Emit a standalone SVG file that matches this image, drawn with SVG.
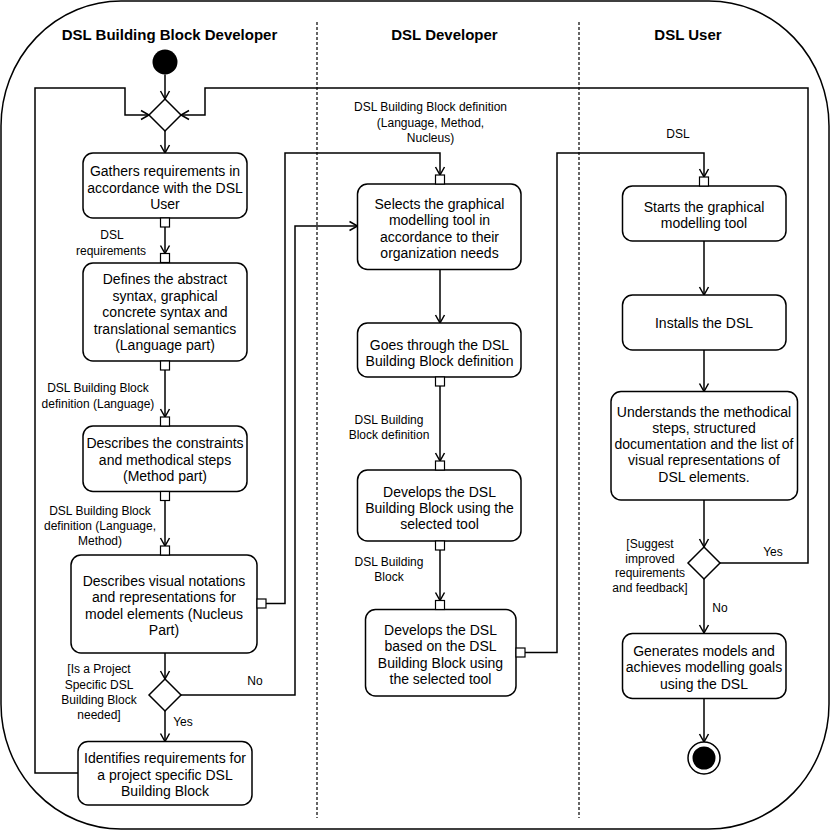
<svg xmlns="http://www.w3.org/2000/svg" width="830" height="831" viewBox="0 0 830 831">
<style>
.box{fill:#fff;stroke:#000;stroke-width:1.5}
.pin{fill:#fff;stroke:#000;stroke-width:1.2}
.dec{fill:#fff;stroke:#000;stroke-width:1.5}
.ln{fill:none;stroke:#000;stroke-width:1.5}
.t{font-family:"Liberation Sans",Arial,sans-serif;font-size:14px;fill:#000;text-anchor:middle}
.l{font-family:"Liberation Sans",Arial,sans-serif;font-size:12px;fill:#000;text-anchor:middle}
.h{font-family:"Liberation Sans",Arial,sans-serif;font-size:15px;font-weight:bold;fill:#000;text-anchor:middle}
.lane{stroke:#000;stroke-width:1.2;stroke-dasharray:3 2}
</style>
<defs>
<marker id="arr" markerUnits="userSpaceOnUse" markerWidth="12" markerHeight="12" viewBox="-10 -6 12 12" refX="0" refY="0" orient="auto">
<path d="M-8,-4.5 L0,0 L-8,4.5" fill="none" stroke="#000" stroke-width="1.5"/>
</marker>
</defs>
<rect x="1" y="1" width="828" height="828" rx="120" ry="125" fill="#fff" stroke="#000" stroke-width="1.5"/>
<g id="lanes">
<line class="lane" x1="317" y1="22" x2="317" y2="818"/>
<line class="lane" x1="579" y1="22" x2="579" y2="818"/>
<text class="h" x="169.5" y="40">DSL Building Block Developer</text>
<text class="h" x="444.5" y="40">DSL Developer</text>
<text class="h" x="688" y="40">DSL User</text>
</g>
<g id="connectors">
<path class="ln" d="M165,74.5 V99" marker-end="url(#arr)"/>
<path class="ln" d="M165,131 V153" marker-end="url(#arr)"/>
<path class="ln" d="M165,227 V253.5" marker-end="url(#arr)"/>
<path class="ln" d="M165,370 V417" marker-end="url(#arr)"/>
<path class="ln" d="M165,500.5 V546" marker-end="url(#arr)"/>
<path class="ln" d="M165,653 V679" marker-end="url(#arr)"/>
<path class="ln" d="M165,711 V741.5" marker-end="url(#arr)"/>
<path class="ln" d="M78,773 H35 V88 H125 V115 H149" marker-end="url(#arr)"/>
<path class="ln" d="M181,695 H295 V226 H357.5" marker-end="url(#arr)"/>
<path class="ln" d="M266,603.5 H285 V153 H440 V175" marker-end="url(#arr)"/>
<path class="ln" d="M440,269.5 V323" marker-end="url(#arr)"/>
<path class="ln" d="M440,386 V461" marker-end="url(#arr)"/>
<path class="ln" d="M440,550 V600.5" marker-end="url(#arr)"/>
<path class="ln" d="M525,652.5 H557 V153 H704 V177" marker-end="url(#arr)"/>
<path class="ln" d="M704,241 V295" marker-end="url(#arr)"/>
<path class="ln" d="M704,350 V391.5" marker-end="url(#arr)"/>
<path class="ln" d="M704,500 V547" marker-end="url(#arr)"/>
<path class="ln" d="M704,579 V633" marker-end="url(#arr)"/>
<path class="ln" d="M704,698.5 V742" marker-end="url(#arr)"/>
<path class="ln" d="M720,563 H808 V88 H205 V115 H181" marker-end="url(#arr)"/>
<text class="l" x="112" y="239">DSL</text>
<text class="l" x="111" y="255">requirements</text>
<text class="l" x="98" y="391.5">DSL Building Block</text>
<text class="l" x="98" y="408">definition (Language)</text>
<text class="l" x="100" y="515">DSL Building Block</text>
<text class="l" x="100" y="530">definition (Language,</text>
<text class="l" x="100" y="545">Method)</text>
<text class="l" x="99" y="673">[Is a Project</text>
<text class="l" x="99" y="688.5">Specific DSL</text>
<text class="l" x="99" y="703.5">Building Block</text>
<text class="l" x="99" y="718.5">needed]</text>
<text class="l" x="255" y="684.5">No</text>
<text class="l" x="183" y="726">Yes</text>
<text class="l" x="430.5" y="111">DSL Building Block definition</text>
<text class="l" x="430.5" y="126.5">(Language, Method,</text>
<text class="l" x="430.5" y="141.5">Nucleus)</text>
<text class="l" x="389" y="424">DSL Building</text>
<text class="l" x="389" y="439">Block definition</text>
<text class="l" x="389" y="566">DSL Building</text>
<text class="l" x="389" y="581">Block</text>
<text class="l" x="678" y="137.5">DSL</text>
<text class="l" x="650" y="548">[Suggest</text>
<text class="l" x="650" y="562.5">improved</text>
<text class="l" x="650" y="577">requirements</text>
<text class="l" x="650" y="591.5">and feedback]</text>
<text class="l" x="773" y="556">Yes</text>
<text class="l" x="720" y="612">No</text>
</g>
<g id="start"><circle cx="165" cy="62" r="12.5" fill="#000"/></g>
<g id="merge"><path class="dec" d="M165,99 L181,115 L165,131 L149,115 Z"/></g>
<g id="gathers">
<rect class="box" x="83" y="153" width="164" height="65" rx="10"/>
<text class="t" x="165" y="176">Gathers requirements in</text>
<text class="t" x="165" y="192.5">accordance with the DSL</text>
<text class="t" x="165" y="209">User</text>
<rect class="pin" x="160.5" y="218" width="9" height="9"/>
</g>
<g id="defines">
<rect class="box" x="83" y="263" width="164" height="98" rx="10"/>
<text class="t" x="165" y="284">Defines the abstract</text>
<text class="t" x="165" y="300.5">syntax, graphical</text>
<text class="t" x="165" y="317">concrete syntax and</text>
<text class="t" x="165" y="333.5">translational semantics</text>
<text class="t" x="165" y="350">(Language part)</text>
<rect class="pin" x="160.5" y="253.5" width="9" height="9"/>
<rect class="pin" x="160.5" y="361" width="9" height="9"/>
</g>
<g id="constraints">
<rect class="box" x="83" y="426" width="164" height="65.5" rx="10"/>
<text class="t" x="165" y="448">Describes the constraints</text>
<text class="t" x="165" y="464.5">and methodical steps</text>
<text class="t" x="165" y="481">(Method part)</text>
<rect class="pin" x="160.5" y="417" width="9" height="9"/>
<rect class="pin" x="160.5" y="491.5" width="9" height="9"/>
</g>
<g id="visual">
<rect class="box" x="71" y="555" width="186" height="98" rx="10"/>
<text class="t" x="164" y="586">Describes visual notations</text>
<text class="t" x="164" y="602">and representations for</text>
<text class="t" x="164" y="618.5">model elements (Nucleus</text>
<text class="t" x="164" y="635">Part)</text>
<rect class="pin" x="160.5" y="546" width="9" height="9"/>
<rect class="pin" x="257" y="599" width="9" height="9"/>
</g>
<g id="decision1"><path class="dec" d="M165,679 L181,695 L165,711 L149,695 Z"/></g>
<g id="identifies">
<rect class="box" x="78" y="741.5" width="174" height="63.5" rx="10"/>
<text class="t" x="165" y="763">Identifies requirements for</text>
<text class="t" x="165" y="779.5">a project specific DSL</text>
<text class="t" x="165" y="796">Building Block</text>
</g>
<g id="selects">
<rect class="box" x="357.5" y="184" width="163.5" height="85.5" rx="10"/>
<text class="t" x="439.5" y="209">Selects the graphical</text>
<text class="t" x="439.5" y="225">modelling tool in</text>
<text class="t" x="439.5" y="241.5">accordance to their</text>
<text class="t" x="439.5" y="257.5">organization needs</text>
<rect class="pin" x="435.5" y="175" width="9" height="9"/>
</g>
<g id="goes">
<rect class="box" x="357.5" y="323" width="163.5" height="54" rx="10"/>
<text class="t" x="439.5" y="350">Goes through the DSL</text>
<text class="t" x="439.5" y="366">Building Block definition</text>
<rect class="pin" x="435.5" y="377" width="9" height="9"/>
</g>
<g id="developsbb">
<rect class="box" x="357.5" y="470" width="163.5" height="71" rx="10"/>
<text class="t" x="439.5" y="496.5">Develops the DSL</text>
<text class="t" x="439.5" y="512.5">Building Block using the</text>
<text class="t" x="439.5" y="529">selected tool</text>
<rect class="pin" x="435.5" y="461" width="9" height="9"/>
<rect class="pin" x="435.5" y="541" width="9" height="9"/>
</g>
<g id="developsdsl">
<rect class="box" x="365.5" y="609.5" width="150.5" height="86.5" rx="10"/>
<text class="t" x="440.5" y="635">Develops the DSL</text>
<text class="t" x="440.5" y="651">based on the DSL</text>
<text class="t" x="440.5" y="667.5">Building Block using</text>
<text class="t" x="440.5" y="683.5">the selected tool</text>
<rect class="pin" x="435.5" y="600.5" width="9" height="9"/>
<rect class="pin" x="516" y="648" width="9" height="9"/>
</g>
<g id="starts">
<rect class="box" x="622.5" y="186" width="163.5" height="55" rx="10"/>
<text class="t" x="704" y="211.5">Starts the graphical</text>
<text class="t" x="704" y="227.5">modelling tool</text>
<rect class="pin" x="699.5" y="177" width="9" height="9"/>
</g>
<g id="installs">
<rect class="box" x="622.5" y="295" width="163.5" height="55" rx="10"/>
<text class="t" x="704" y="327.5">Installs the DSL</text>
</g>
<g id="understands">
<rect class="box" x="611" y="391.5" width="186.5" height="108.5" rx="10"/>
<text class="t" x="704" y="416.5">Understands the methodical</text>
<text class="t" x="704" y="432.5">steps, structured</text>
<text class="t" x="704" y="449">documentation and the list of</text>
<text class="t" x="704" y="465">visual representations of</text>
<text class="t" x="704" y="481.5">DSL elements.</text>
</g>
<g id="decision2"><path class="dec" d="M704,547 L720,563 L704,579 L688,563 Z"/></g>
<g id="generates">
<rect class="box" x="622.5" y="633.5" width="163.5" height="65" rx="10"/>
<text class="t" x="704" y="655.5">Generates models and</text>
<text class="t" x="704" y="672">achieves modelling goals</text>
<text class="t" x="704" y="688.5">using the DSL</text>
</g>
<g id="end">
<circle cx="704" cy="758" r="16" fill="#fff" stroke="#000" stroke-width="1.5"/>
<circle cx="704" cy="758" r="11.5" fill="#000"/>
</g>
</svg>
